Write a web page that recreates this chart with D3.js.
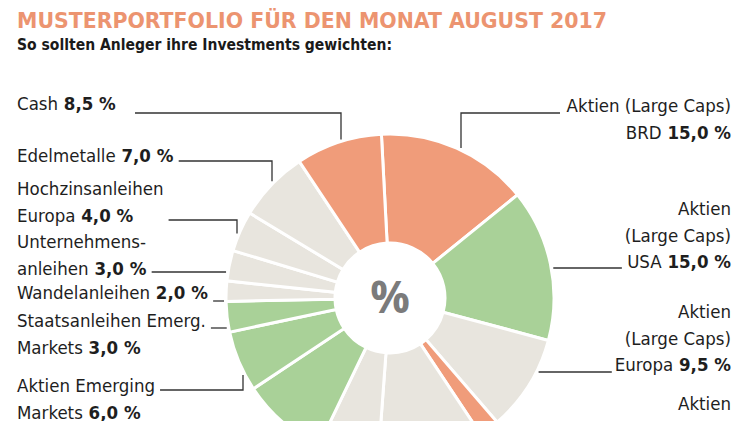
<!DOCTYPE html>
<html>
<head>
<meta charset="utf-8">
<script src="https://cdn.jsdelivr.net/npm/d3@7"></script>
<style>
  body { margin: 0; background: #fff; }
  svg text { font-family: "Liberation Sans Narrow", "DejaVu Sans Condensed", "Roboto Condensed", sans-serif; }
</style>
</head>
<body>
<div id="chart"></div>
<script>
// Data (clockwise from 12 o'clock)
const names = [
  'Aktien (Large Caps) BRD', 'Aktien (Large Caps) USA', 'Aktien (Large Caps) Europa',
  'Aktien (Large Caps) ...', 'weitere Position 1', 'weitere Position 2', 'weitere Position 3',
  'Aktien Emerging Markets', 'Staatsanleihen Emerg. Markets', 'Wandelanleihen',
  'Unternehmensanleihen', 'Hochzinsanleihen Europa', 'Edelmetalle', 'Cash'
];
const values = [15, 15, 9.5, 2, 10.5, 6, 8.5, 6, 3, 2, 3, 4, 7, 8.5];
const groups = ['de', 'welt', 'renten', 'de', 'renten', 'renten', 'welt',
  'welt', 'welt', 'renten', 'renten', 'renten', 'renten', 'de'];
const labelLines = [
  ['Aktien (Large Caps)', 'BRD'],
  ['Aktien', '(Large Caps)', 'USA'],
  ['Aktien', '(Large Caps)', 'Europa'],
  ['Aktien', '(Large Caps)'],
  null, null, null,
  ['Aktien Emerging', 'Markets'],
  ['Staatsanleihen Emerg.', 'Markets'],
  ['Wandelanleihen'],
  ['Unternehmens-', 'anleihen'],
  ['Hochzinsanleihen', 'Europa'],
  ['Edelmetalle'],
  ['Cash']
];
const showValue = [true, true, true, false, false, false, false, true, true, true, true, true, true, true];
const title = 'MUSTERPORTFOLIO FÜR DEN MONAT AUGUST 2017';
const subtitle = 'So sollten Anleger ihre Investments gewichten:';

//
// Set-up
//
const width = 750, height = 421;
const cx = 390, cy = 298;
const rInner = 55, rOuter = 164;
const lineH = 26.5;

const svg = d3.select('#chart').append('svg')
  .attr('width', width)
  .attr('height', height);

const color = d3.scaleOrdinal()
  .domain(['de', 'welt', 'renten'])
  .range(['#f09c7a', '#a9d198', '#e8e5de']);

const de = d3.formatLocale({ decimal: ',', thousands: '.', grouping: [3], currency: ['', ' €'] });
const fmt = de.format('.1f');

// title
svg.append('text')
  .attr('x', 17).attr('y', 28)
  .attr('textLength', 590).attr('lengthAdjust', 'spacingAndGlyphs')
  .style('font-size', '21px').style('font-weight', 700)
  .style('fill', '#ec9470')
  .text(title);

svg.append('text')
  .attr('x', 17).attr('y', 50)
  .attr('textLength', 375).attr('lengthAdjust', 'spacingAndGlyphs')
  .style('font-size', '16px').style('font-weight', 700)
  .style('fill', '#1a1a1a')
  .text(subtitle);

//
// Donut
//
const startAngle = -3 * Math.PI / 180;
const pie = d3.pie().sort(null).value(d => d)
  .startAngle(startAngle).endAngle(startAngle + 2 * Math.PI);
const arcs = pie(values);
const arc = d3.arc().innerRadius(rInner).outerRadius(rOuter);

const g = svg.append('g').attr('transform', `translate(${cx}, ${cy})`);
g.selectAll('path.slice')
  .data(arcs)
  .enter().append('path')
    .attr('class', 'slice')
    .attr('d', arc)
    .style('fill', (d, i) => color(groups[i]))
    .style('stroke', '#fff')
    .style('stroke-width', 3);

g.append('text')
  .attr('text-anchor', 'middle')
  .attr('dy', '0.35em')
  .style('font-family', '"Open Sans", "DejaVu Sans", sans-serif')
  .style('font-size', '44px').style('font-weight', 700)
  .style('fill', '#7b7b7b')
  .text('%');

//
// Labels
//
// layout of the label blocks: first baseline, leader line y, line start x, elbow x
const labelLayout = {
  0: { side: 'right', y: 112, ly: 113, lx: 560, elbow: 461 },
  1: { side: 'right', y: 215, ly: 268, lx: 622 },
  2: { side: 'right', y: 318, ly: 372, lx: 612 },
  3: { side: 'right', y: 410 },
  7: { side: 'left', y: 392, ly: 390, lx: 160, elbow: 243 },
  8: { side: 'left', y: 327, ly: 328, lx: 208 },
  9: { side: 'left', y: 299, ly: 301, lx: 212 },
  10: { side: 'left', y: 248, ly: 272, lx: 150 },
  11: { side: 'left', y: 195, ly: 220, lx: 142, elbow: 237 },
  12: { side: 'left', y: 162, ly: 161, lx: 177, elbow: 272 },
  13: { side: 'left', y: 110, ly: 113, lx: 135, elbow: 341 }
};

const rLead = rOuter + 2;
const labels = svg.append('g').attr('class', 'labels');

Object.keys(labelLayout).forEach(k => {
  const i = +k;
  const L = labelLayout[k];
  const lines = labelLines[i];
  const right = L.side === 'right';
  const t = labels.append('text')
    .attr('text-anchor', right ? 'end' : 'start')
    .style('font-size', '18.5px')
    .style('fill', '#1e1e1e');
  lines.forEach((ln, j) => {
    const last = j === lines.length - 1;
    t.append('tspan')
      .attr('x', right ? 731 : 17)
      .attr('y', L.y + j * lineH)
      .text(ln);
    if (last && showValue[i]) {
      t.append('tspan')
        .style('font-weight', 700)
        .text(' ' + fmt(values[i]) + ' %');
    }
  });

  if (L.ly === undefined) return;
  const bb = t.node().getBBox();
  const x0 = right ? Math.min(L.lx, bb.x - 3) : Math.max(L.lx, bb.x + bb.width + 5);
  let path;
  if (L.elbow !== undefined) {
    const dx = L.elbow - cx;
    const dyC = Math.sqrt(rLead * rLead - dx * dx);
    const yEnd = L.ly < cy ? cy - dyC : cy + dyC;
    path = `M${x0},${L.ly}H${L.elbow}V${yEnd}`;
  } else {
    const dy = L.ly - cy;
    const dxC = Math.sqrt(rLead * rLead - dy * dy);
    const xEnd = right ? cx + dxC : cx - dxC;
    path = `M${x0},${L.ly}H${xEnd}`;
  }
  labels.append('path')
    .attr('d', path)
    .style('fill', 'none')
    .style('stroke', '#333')
    .style('stroke-width', 1.3);
});
</script>
</body>
</html>
